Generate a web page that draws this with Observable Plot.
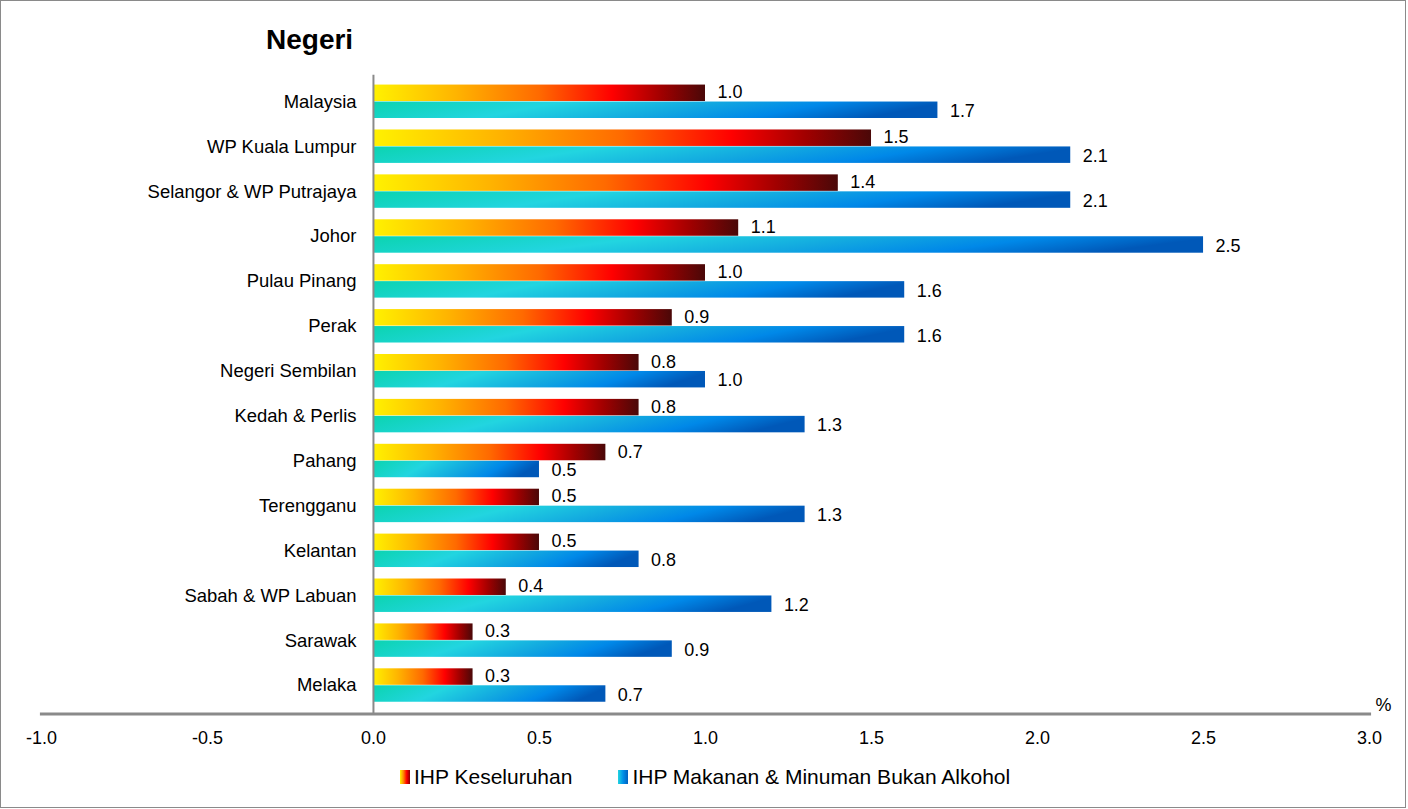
<!DOCTYPE html>
<html>
<head>
<meta charset="utf-8">
<script src="https://cdn.jsdelivr.net/npm/d3@7"></script>
<script src="https://cdn.jsdelivr.net/npm/@observablehq/plot@0.6"></script>
<style>
  html, body { margin: 0; padding: 0; background: #fff; }
  #wrap { position: relative; width: 1406px; height: 808px; border: 1px solid #8a8a8a; box-sizing: border-box; font-family: "Liberation Sans", Arial, sans-serif; overflow: hidden; }
  #title { position: absolute; left: 265px; top: 23px; font-size: 28px; font-weight: bold; color: #000; }
  #chart { position: absolute; left: -1px; top: -1px; }
  #legend { position: absolute; top: 764px; left: 399px; font-size: 21px; color: #000; display: flex; align-items: center; }
  .sw { display: inline-block; width: 10px; height: 14px; margin-right: 4px; }
  .item { display: flex; align-items: center; margin-right: 46px; }
</style>
</head>
<body>
<div id="wrap">
  <div id="title">Negeri</div>
  <div id="chart"></div>
  <div id="legend">
    <div class="item"><span class="sw" style="background: linear-gradient(to right, #fff200, #ff8c00, #ff0000, #8a0000);"></span>IHP Keseluruhan</div>
    <div class="item"><span class="sw" style="background: linear-gradient(to right, #22d5e0, #0090e8, #0060c0);"></span>IHP Makanan &amp; Minuman Bukan Alkohol</div>
  </div>
</div>
<script>
const categories = ["Malaysia", "WP Kuala Lumpur", "Selangor & WP Putrajaya", "Johor", "Pulau Pinang", "Perak", "Negeri Sembilan", "Kedah & Perlis", "Pahang", "Terengganu", "Kelantan", "Sabah & WP Labuan", "Sarawak", "Melaka"];
const keseluruhan = [1.0, 1.5, 1.4, 1.1, 1.0, 0.9, 0.8, 0.8, 0.7, 0.5, 0.5, 0.4, 0.3, 0.3];
const makanan = [1.7, 2.1, 2.1, 2.5, 1.6, 1.6, 1.0, 1.3, 0.5, 1.3, 0.8, 1.2, 0.9, 0.7];
const xTicks = [-1.0, -0.5, 0.0, 0.5, 1.0, 1.5, 2.0, 2.5, 3.0];
const seriesNames = ["IHP Keseluruhan", "IHP Makanan & Minuman Bukan Alkohol"];

const rows = categories.map((c, i) => ({ c, a: keseluruhan[i], b: makanan[i] }));
const band = (712 - 75) / 14;
const barH = 17;

const plot = Plot.plot({
  width: 1408,
  height: 760,
  marginLeft: 41,
  marginRight: 36,
  marginTop: 75,
  marginBottom: 45,
  style: { fontFamily: "Liberation Sans, Arial, sans-serif", color: "#000", background: "transparent" },
  x: { domain: [-1, 3] },
  y: { domain: categories, padding: 0, insetBottom: 3, axis: null },
  marks: [
    Plot.barX(rows, { x: "a", y: "c", fill: "url(#gradO)", insetTop: band / 2 - barH, insetBottom: band / 2 }),
    Plot.barX(rows, { x: "b", y: "c", fill: "url(#gradB)", insetTop: band / 2, insetBottom: band / 2 - barH }),
    Plot.ruleX([0], { stroke: "#8a8a8a", strokeWidth: 2 }),
    Plot.frame({ anchor: "bottom", stroke: "#8a8a8a", strokeWidth: 3 }),
    Plot.text(rows, { x: "a", y: "c", text: d => d.a.toFixed(1), dx: 12, dy: -band / 2 + barH / 2 + 5, textAnchor: "start", fontSize: 18, fill: "#000" }),
    Plot.text(rows, { x: "b", y: "c", text: d => d.b.toFixed(1), dx: 12, dy: barH / 2 + 1, textAnchor: "start", fontSize: 18, fill: "#000" }),
    Plot.text(categories, { x: () => 0, y: d => d, text: d => d, dx: -17, textAnchor: "end", fontSize: 18.5, fill: "#000" }),
    Plot.axisX({ ticks: xTicks, tickFormat: d => d.toFixed(1), tickSize: 0, tickPadding: 17, fontSize: 18, label: null, fill: "#000" }),
    Plot.text(["%"], { x: () => 3, frameAnchor: "bottom", text: d => d, dx: 14, dy: -3, fontSize: 18, fill: "#000" })
  ]
});

const svg = d3.select(plot);
const defs = svg.insert("defs", ":first-child");
const gO = defs.append("linearGradient").attr("id", "gradO").attr("x1", 0).attr("x2", 1).attr("y1", 0).attr("y2", 0);
[[0, "#fff200"], [0.25, "#ffb400"], [0.5, "#ff6a00"], [0.72, "#ff0000"], [0.87, "#a00000"], [1, "#4a0808"]]
  .forEach(([o, c]) => gO.append("stop").attr("offset", o).attr("stop-color", c));
const gB = defs.append("linearGradient").attr("id", "gradB").attr("x1", 0).attr("x2", 1).attr("y1", 0).attr("y2", 0.15);
[[0, "#0bd4b0"], [0.33, "#22d5e0"], [0.6, "#12a8e0"], [0.8, "#0088e8"], [1, "#0058b8"]]
  .forEach(([o, c]) => gB.append("stop").attr("offset", o).attr("stop-color", c));

document.getElementById("chart").appendChild(plot);
</script>
</body>
</html>
